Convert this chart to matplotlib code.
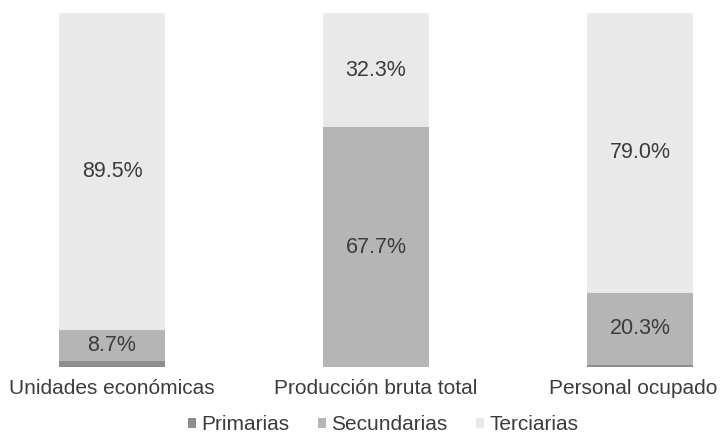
import numpy as np
import matplotlib.pyplot as plt
from matplotlib.transforms import ScaledTranslation

plt.rcParams['font.family'] = ['Liberation Sans', 'DejaVu Sans']

# Participación por sector (%)
categorias = ["Unidades económicas", "Producción bruta total", "Personal ocupado"]
primarias = [1.8, 0.0, 0.7]
secundarias = [8.7, 67.7, 20.3]
terciarias = [89.5, 32.3, 79.0]

sectores = ["Primarias", "Secundarias", "Terciarias"]
colores = ["#8e8e8e", "#b5b5b5", "#e9e9e9"]
texto = "#3c3c3c"

fig = plt.figure(figsize=(7.21, 4.43), dpi=100)
ax = fig.add_axes([0, 0.1716, 1, 0.799])

x = np.arange(len(categorias))
ancho = 0.4
base = np.zeros(len(categorias))
for nombre, vals, col in zip(sectores, [primarias, secundarias, terciarias], colores):
    vals = np.array(vals)
    ax.bar(x, vals, ancho, bottom=base, color=col, label=nombre, linewidth=0)
    # etiquetas sólo para los segmentos visibles
    if nombre != "Primarias":
        for xi, b, v in zip(x, base, vals):
            if v > 0:
                ax.text(xi, b + v / 2, f"{v:.1f}%", ha="center", va="center",
                        fontsize=15.5, color=texto)
    base += vals

ax.set_xlim(-0.424, 2.307)
ax.set_ylim(0, 100)
ax.set_xticks(x)
ax.set_xticklabels(categorias, fontsize=15, color=texto)
ax.tick_params(axis="x", length=0, pad=9)
ax.set_yticks([])
for s in ax.spines.values():
    s.set_visible(False)

# la última etiqueta se corre un poco para que quepa en el borde
ult = ax.get_xticklabels()[-1]
ult.set_transform(ult.get_transform() + ScaledTranslation(-5 / 72, 0, fig.dpi_scale_trans))

leg = fig.legend(loc="center", bbox_to_anchor=(383 / 721, 1 - 425 / 443),
                 ncol=3, frameon=False, fontsize=15, handlelength=0.4,
                 handleheight=0.4, handletextpad=0.25, columnspacing=1.35)
for t in leg.get_texts():
    t.set_color(texto)

fig.savefig("out.png", dpi=100)
